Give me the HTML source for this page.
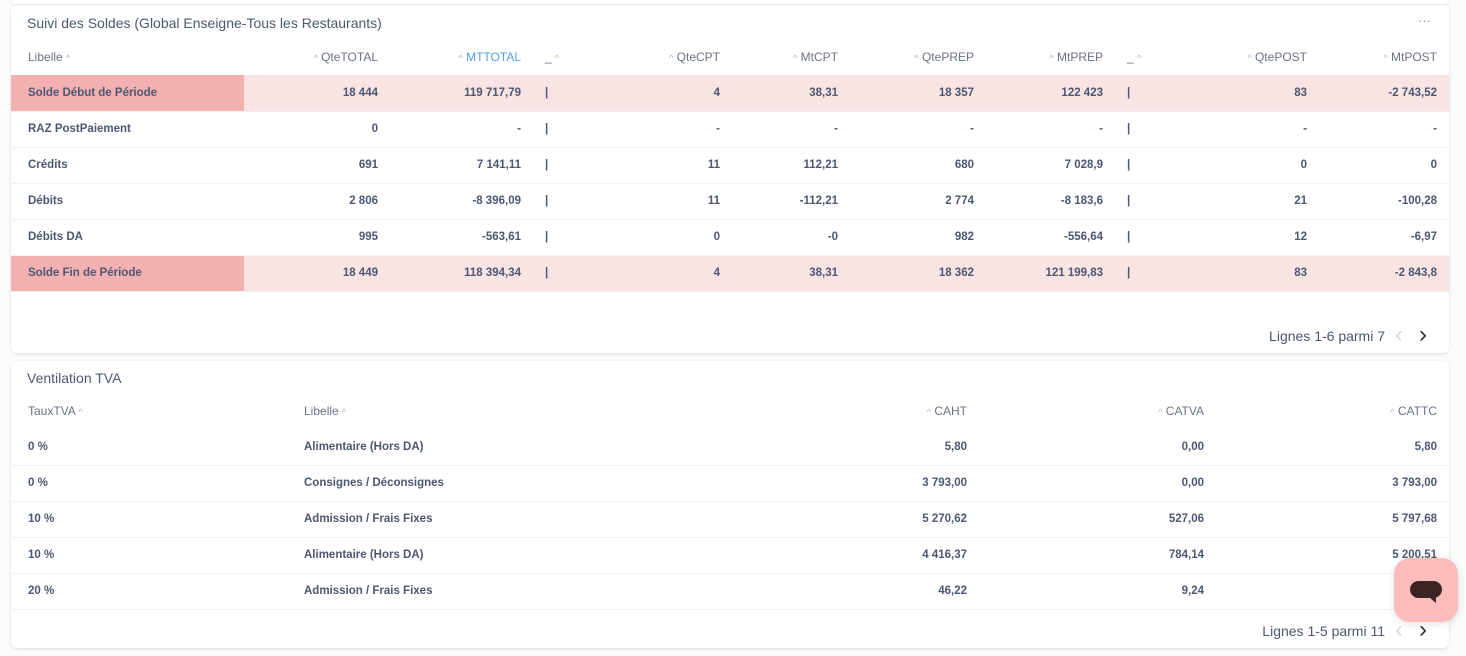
<!DOCTYPE html>
<html><head><meta charset="utf-8"><style>
*{box-sizing:border-box;margin:0;padding:0}
body{width:1466px;height:656px;background:#f9fbfc;font-family:"Liberation Sans",sans-serif;color:#4c5773;position:relative;overflow:hidden}
.card{position:absolute;left:11px;width:1438px;background:#fff;border-radius:6px;box-shadow:0 1px 3px rgba(0,0,0,.12)}
.title{position:absolute;left:16px;font-size:14px;color:#4c5773}
table{position:absolute;left:0;border-collapse:collapse;table-layout:fixed}
td,th{height:36px;font-size:11.5px;padding:0 12px;white-space:nowrap;border-bottom:1px solid #eef0f2}
th{font-weight:normal;color:#6b7387;font-size:12px;border-bottom:none}
td{font-weight:bold;color:#4c5773}
.r{text-align:right}.l{text-align:left}
td.first,th.first{padding-left:17px}
.hl td{background:#f9e4e4}.hl td.first{background:#f3b0b0}
.c{font-size:9px;color:#b0b6c3}
.pg{position:absolute;right:64px;font-size:14px;color:#4c5773}
.arr{position:absolute;font-size:24px;line-height:24px}
</style></head><body>
<div class="card" style="top:-4px;height:8px;box-shadow:0 1px 3px rgba(0,0,0,.1)"></div>
<div class="card" style="top:5px;height:348px">
<div class="title" style="top:10px">Suivi des Soldes (Global Enseigne-Tous les Restaurants)</div>
<div style="position:absolute;right:18px;top:8px;color:#8a91a0;font-size:13px">···</div>
<table style="top:34px;width:1438px">
<colgroup><col style="width:233px"><col style="width:146px"><col style="width:143px"><col style="width:67px"><col style="width:132px"><col style="width:118px"><col style="width:136px"><col style="width:129px"><col style="width:85px"><col style="width:119px"><col style="width:130px"></colgroup>
<tr><th class="l first">Libelle <span class="c">^</span></th><th class="r"><span class="c">^</span> QteTOTAL</th><th class="r" style="color:#509ee3"><span class="c">^</span> MTTOTAL</th><th class="l">_ <span class="c">^</span></th><th class="r"><span class="c">^</span> QteCPT</th><th class="r"><span class="c">^</span> MtCPT</th><th class="r"><span class="c">^</span> QtePREP</th><th class="r"><span class="c">^</span> MtPREP</th><th class="l">_ <span class="c">^</span></th><th class="r"><span class="c">^</span> QtePOST</th><th class="r"><span class="c">^</span> MtPOST</th></tr>
<tr class="hl"><td class="first">Solde Début de Période</td><td class="r">18 444</td><td class="r">119 717,79</td><td>|</td><td class="r">4</td><td class="r">38,31</td><td class="r">18 357</td><td class="r">122 423</td><td>|</td><td class="r">83</td><td class="r">-2 743,52</td></tr>
<tr><td class="first">RAZ PostPaiement</td><td class="r">0</td><td class="r">-</td><td>|</td><td class="r">-</td><td class="r">-</td><td class="r">-</td><td class="r">-</td><td>|</td><td class="r">-</td><td class="r">-</td></tr>
<tr><td class="first">Crédits</td><td class="r">691</td><td class="r">7 141,11</td><td>|</td><td class="r">11</td><td class="r">112,21</td><td class="r">680</td><td class="r">7 028,9</td><td>|</td><td class="r">0</td><td class="r">0</td></tr>
<tr><td class="first">Débits</td><td class="r">2 806</td><td class="r">-8 396,09</td><td>|</td><td class="r">11</td><td class="r">-112,21</td><td class="r">2 774</td><td class="r">-8 183,6</td><td>|</td><td class="r">21</td><td class="r">-100,28</td></tr>
<tr><td class="first">Débits DA</td><td class="r">995</td><td class="r">-563,61</td><td>|</td><td class="r">0</td><td class="r">-0</td><td class="r">982</td><td class="r">-556,64</td><td>|</td><td class="r">12</td><td class="r">-6,97</td></tr>
<tr class="hl"><td class="first">Solde Fin de Période</td><td class="r">18 449</td><td class="r">118 394,34</td><td>|</td><td class="r">4</td><td class="r">38,31</td><td class="r">18 362</td><td class="r">121 199,83</td><td>|</td><td class="r">83</td><td class="r">-2 843,8</td></tr>
</table>
<div class="pg" style="top:323px">Lignes 1-6 parmi 7</div>
<div class="arr" style="left:1384px;top:318px;color:#d5d9e0">‹</div>
<div class="arr" style="left:1408px;top:318px;color:#2e3340">›</div>
</div>
<div class="card" style="top:361px;height:287px">
<div class="title" style="top:9px">Ventilation TVA</div>
<table style="top:32px;width:1438px">
<colgroup><col style="width:281px"><col style="width:358px"><col style="width:329px"><col style="width:237px"><col style="width:233px"></colgroup>
<tr><th class="l first">TauxTVA <span class="c">^</span></th><th class="l">Libelle <span class="c">^</span></th><th class="r"><span class="c">^</span> CAHT</th><th class="r"><span class="c">^</span> CATVA</th><th class="r"><span class="c">^</span> CATTC</th></tr>
<tr><td class="first">0 %</td><td>Alimentaire (Hors DA)</td><td class="r">5,80</td><td class="r">0,00</td><td class="r">5,80</td></tr>
<tr><td class="first">0 %</td><td>Consignes / Déconsignes</td><td class="r">3 793,00</td><td class="r">0,00</td><td class="r">3 793,00</td></tr>
<tr><td class="first">10 %</td><td>Admission / Frais Fixes</td><td class="r">5 270,62</td><td class="r">527,06</td><td class="r">5 797,68</td></tr>
<tr><td class="first">10 %</td><td>Alimentaire (Hors DA)</td><td class="r">4 416,37</td><td class="r">784,14</td><td class="r">5 200,51</td></tr>
<tr><td class="first">20 %</td><td>Admission / Frais Fixes</td><td class="r">46,22</td><td class="r">9,24</td><td class="r"></td></tr>
</table>
<div class="pg" style="top:262px">Lignes 1-5 parmi 11</div>
<div class="arr" style="left:1384px;top:257px;color:#d5d9e0">‹</div>
<div class="arr" style="left:1408px;top:257px;color:#2e3340">›</div>
</div>
<div style="position:absolute;left:1394px;top:558px;width:64px;height:64px;border-radius:16px;background:#fcbcbc;box-shadow:0 2px 8px rgba(0,0,0,.12)">
<div style="position:absolute;left:16px;top:23px;width:32px;height:17px;border-radius:9px;background:#3d2424"></div>
<div style="position:absolute;left:36px;top:40px;width:0;height:0;border-left:6px solid transparent;border-top:5px solid #3d2424"></div>
</div>
</body></html>
